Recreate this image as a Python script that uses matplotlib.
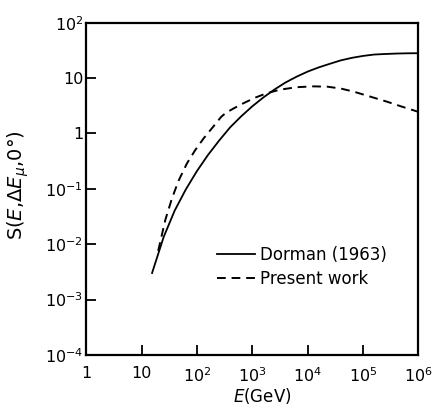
import matplotlib
matplotlib.use("Agg")
import matplotlib.pyplot as plt

# Dorman (1963) – solid curve
dorman_E = [15.5, 25.1, 39.8, 63.1, 100, 158, 251, 398, 631, 1000, 1585, 2512,
            3981, 6310, 10000, 15850, 25120, 39810, 63100, 100000, 158500,
            251200, 398100, 631000, 1000000]
dorman_S = [0.00302, 0.0135, 0.0407, 0.0977, 0.209, 0.407, 0.741, 1.29, 2.04,
            3.09, 4.47, 6.22, 8.32, 10.6, 13.1, 15.6, 18.1, 20.9, 23.2, 25.1,
            26.6, 27.2, 27.7, 28.0, 28.1]

# Present work – dashed curve
present_E = [20.0, 26.9, 35.5, 46.8, 66.1, 93.3, 132, 200, 275, 331, 457, 692,
             1122, 1820, 3162, 6310, 12590, 22390, 39810, 67610, 134900,
             269200, 501200, 1000000]
present_S = [0.00759, 0.0275, 0.0676, 0.141, 0.288, 0.501, 0.813, 1.35, 2.0,
             2.34, 2.82, 3.51, 4.42, 5.32, 6.17, 6.84, 7.08, 7.0, 6.46, 5.69,
             4.62, 3.75, 3.05, 2.45]

x_ticks = [1, 10, 1e2, 1e3, 1e4, 1e5, 1e6]
x_labels = ["1", "10", r"$10^{2}$", r"$10^{3}$", r"$10^{4}$", r"$10^{5}$", r"$10^{6}$"]
y_ticks = [1e-4, 1e-3, 1e-2, 1e-1, 1, 10, 1e2]
y_labels = [r"$10^{-4}$", r"$10^{-3}$", r"$10^{-2}$", r"$10^{-1}$", "1", "10", r"$10^{2}$"]

plt.rcParams["font.family"] = ["DejaVu Sans"]
plt.rcParams["mathtext.fontset"] = "dejavusans"

fig = plt.figure(figsize=(4.35, 4.05), dpi=100)
ax = fig.add_axes([0.198, 0.1235, 0.764, 0.8205])

ax.plot(dorman_E, dorman_S, color="black", lw=1.3, label="Dorman (1963)")
ax.plot(present_E, present_S, color="black", lw=1.4, linestyle=(0, (4.5, 3)),
        label="Present work")

ax.set_xscale("log")
ax.set_yscale("log")
ax.set_xlim(1, 1e6)
ax.set_ylim(1e-4, 1e2)
ax.set_xticks(x_ticks)
ax.set_xticklabels(x_labels)
ax.set_yticks(y_ticks)
ax.set_yticklabels(y_labels)
ax.minorticks_off()
ax.tick_params(axis="both", which="major", direction="in", length=7, width=1.3,
               labelsize=11.5, colors="black")
ax.tick_params(axis="y", pad=2)
ax.tick_params(axis="x", pad=8)

for s in ax.spines.values():
    s.set_linewidth(1.6)
    s.set_color("black")

ax.set_xlabel(r"$E$(GeV)", fontsize=12)
ax.xaxis.set_label_coords(0.53, -0.092)
ax.set_ylabel(r"S($E$,$\Delta E_{\mu}$,0°)", fontsize=14)
ax.yaxis.set_label_coords(-0.165, 0.51)

ax.legend(loc="center left", bbox_to_anchor=(0.393, 0.266), frameon=False,
          fontsize=12, handlelength=2.3, handletextpad=0.3, labelspacing=0.35,
          borderpad=0, borderaxespad=0)

fig.savefig("out.png", dpi=100)
